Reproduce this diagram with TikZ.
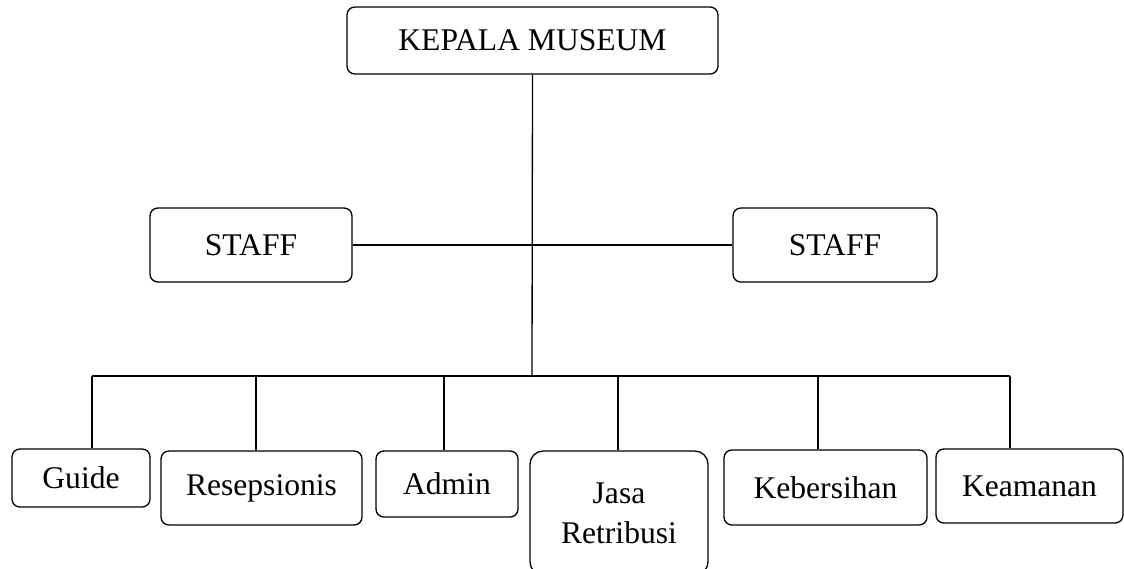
\documentclass[tikz,border=0pt]{standalone}
\usepackage{fontspec}
\setmainfont{Liberation Serif}
\usepackage{tikz}
\tikzset{>=latex}
\tikzset{
  box/.style = {draw, rounded corners = 3pt, line width = 0.5pt, align = center,
                font = \fontsize{12}{15.2}\selectfont, inner sep = 0pt},
  link/.style = {line width = 0.5pt}
}

\begin{document}
\begin{tikzpicture}[x = 0.38pt, y = -0.38pt]
\useasboundingbox (0, 0) rectangle (1124, 568);

\node[box, minimum width = 371*0.38pt, minimum height = 67*0.38pt] (kepala) at (532.5, 40.5) {KEPALA MUSEUM};
\node[box, minimum width = 202*0.38pt, minimum height = 74*0.38pt] (staffL) at (251, 245) {STAFF};
\node[box, minimum width = 204*0.38pt, minimum height = 74*0.38pt] (staffR) at (835, 245) {STAFF};

\foreach \nm/\cx/\cy/\w/\h/\txt in {
	guide/81/478/138/58/Guide,
	resep/261.5/488/201/74/Resepsionis,
	admin/447/484/142/66/Admin,
	keber/825.5/487.5/203/75/Kebersihan,
	aman/1029.5/486/187/74/Keamanan}{
	\node[box, minimum width = \w*0.38pt, minimum height = \h*0.38pt] (\nm) at (\cx, \cy) {\txt};
}
\node[box, rounded corners = 5pt, minimum width = 178*0.38pt, minimum height = 124*0.38pt] (jasa) at (619, 513) {Jasa\\Retribusi};

% garis
\coordinate (bus) at (532, 376);
\draw[link] (kepala.south) -- (bus);
\draw[link] (staffL.east) -- (staffR.west);

\foreach \nm/\dx in {guide/92, resep/256, admin/444, jasa/618, keber/818, aman/1010}{
	\coordinate (t\nm) at (\dx, 376);
	\draw[link] (t\nm) -- (t\nm |- \nm.north);
}
\draw[link] (tguide) -- (taman);

\end{tikzpicture}
\end{document}
